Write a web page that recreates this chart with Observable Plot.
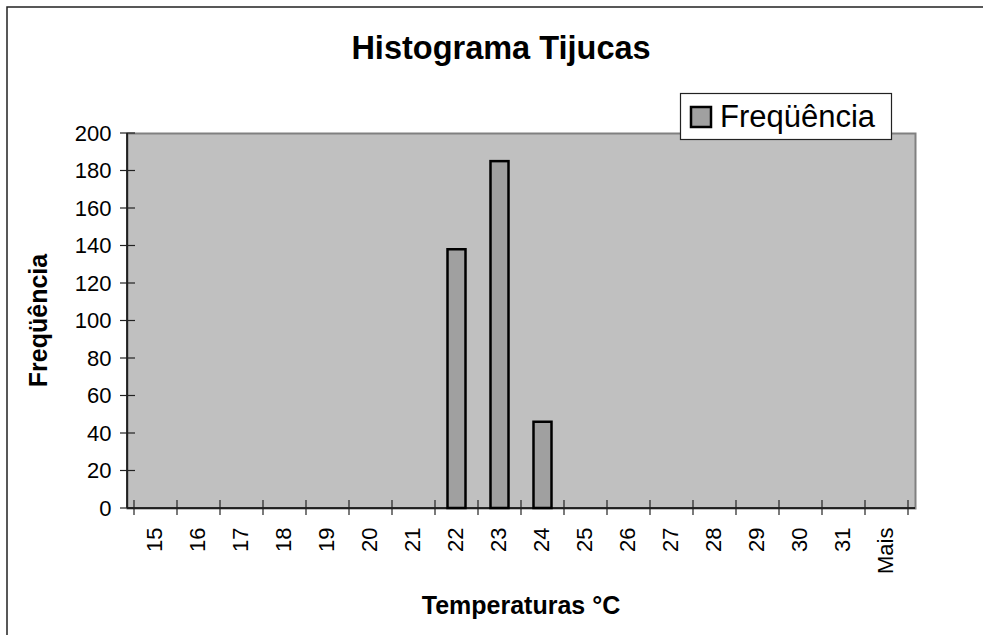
<!DOCTYPE html>
<html>
<head>
<meta charset="utf-8">
<script src="https://cdn.jsdelivr.net/npm/d3@7"></script>
<script src="https://cdn.jsdelivr.net/npm/@observablehq/plot@0.6"></script>
<style>
  html, body { margin: 0; padding: 0; background: #fff; }
  #chart { width: 983px; height: 635px; overflow: hidden; }
</style>
</head>
<body>
<div id="chart"></div>
<script>
// Data
const categories = ["15","16","17","18","19","20","21","22","23","24","25","26","27","28","29","30","31","Mais"];
const frequencies = [0,0,0,0,0,0,0,138,185,46,0,0,0,0,0,0,0,0];
const yTicks = [0,20,40,60,80,100,120,140,160,180,200];
const chartTitle = "Histograma Tijucas";
const xTitle = "Temperaturas °C";
const yTitle = "Freqüência";
const seriesName = "Freqüência";

const data = categories.map((c, i) => ({cat: c, freq: frequencies[i]}));
const font = "'Liberation Sans', Arial, sans-serif";

const plot = Plot.plot({
  width: 983,
  height: 635,
  marginLeft: 127,
  marginRight: 68,
  marginTop: 133,
  marginBottom: 127,
  style: {fontFamily: font, background: "transparent", color: "black"},
  x: {type: "band", domain: categories, padding: 0, label: null},
  y: {domain: [0, 200], label: null},
  marks: [
    Plot.frame({fill: "#C0C0C0", stroke: "#808080", strokeWidth: 2}),
    Plot.barY(data.filter(d => d.freq > 0), {
      x: "cat", y: "freq", fill: "#A0A0A0", stroke: "black", strokeWidth: 2.5,
      insetLeft: 12.5, insetRight: 12.5
    }),
    Plot.axisY({ticks: yTicks, tickSize: 0, tickPadding: 16, fontSize: 22, fill: "black", label: null}),
    Plot.axisX({tickSize: 0, tickRotate: -90, tickPadding: 19, fontSize: 22, fill: "black", label: null, dx: -1.5})
  ]
});

document.getElementById("chart").appendChild(plot);

const svg = d3.select(plot);
const xs = plot.scale("x");
const ys = plot.scale("y");
const x0 = xs.range[0], x1 = xs.range[1];
const yTop = ys.apply(200), yBase = ys.apply(0);

// Outer chart border (extends past right/bottom edges)
svg.insert("rect", ":first-child")
  .attr("x", 7).attr("y", 7).attr("width", 1100).attr("height", 1100)
  .attr("fill", "white").attr("stroke", "#222").attr("stroke-width", 1.5);

const deco = svg.append("g");
// Axis lines
deco.append("line").attr("x1", x0).attr("x2", x0).attr("y1", yTop).attr("y2", yBase)
  .attr("stroke", "black").attr("stroke-width", 1.5);
deco.append("line").attr("x1", x0).attr("x2", x1).attr("y1", yBase).attr("y2", yBase)
  .attr("stroke", "black").attr("stroke-width", 1.5);
// Y ticks (crossing axis)
yTicks.forEach(v => {
  const y = ys.apply(v);
  deco.append("line").attr("x1", x0 - 7).attr("x2", x0 + 8).attr("y1", y).attr("y2", y)
    .attr("stroke", "#222").attr("stroke-width", 1.2);
});
// X ticks at category boundaries
const bounds = categories.map(c => xs.apply(c)).concat([xs.apply(categories[categories.length - 1]) + xs.bandwidth]);
bounds.forEach(bx => {
  deco.append("line").attr("x1", bx).attr("x2", bx).attr("y1", yBase - 8).attr("y2", yBase + 7)
    .attr("stroke", "#222").attr("stroke-width", 1.2);
});

// Titles
svg.append("text").text(chartTitle)
  .attr("x", 501).attr("y", 59).attr("text-anchor", "middle")
  .attr("font-family", font).attr("font-weight", "bold").attr("font-size", 32.5).attr("fill", "black");
svg.append("text").text(xTitle)
  .attr("x", (x0 + x1) / 2).attr("y", 614).attr("text-anchor", "middle")
  .attr("font-family", font).attr("font-weight", "bold").attr("font-size", 25).attr("fill", "black");
svg.append("text").text(yTitle)
  .attr("transform", `translate(47,${(yTop + yBase) / 2}) rotate(-90)`).attr("text-anchor", "middle")
  .attr("font-family", font).attr("font-weight", "bold").attr("font-size", 25).attr("fill", "black");

// Legend
const lg = svg.append("g");
lg.append("rect").attr("x", 680.5).attr("y", 93.5).attr("width", 211).attr("height", 46)
  .attr("fill", "white").attr("stroke", "#222").attr("stroke-width", 1.2);
lg.append("rect").attr("x", 691).attr("y", 107).attr("width", 20).attr("height", 20)
  .attr("fill", "#A0A0A0").attr("stroke", "black").attr("stroke-width", 2.5);
lg.append("text").text(seriesName).attr("x", 720).attr("y", 127).attr("text-anchor", "start")
  .attr("font-family", font).attr("font-size", 31).attr("fill", "black");
</script>
</body>
</html>
